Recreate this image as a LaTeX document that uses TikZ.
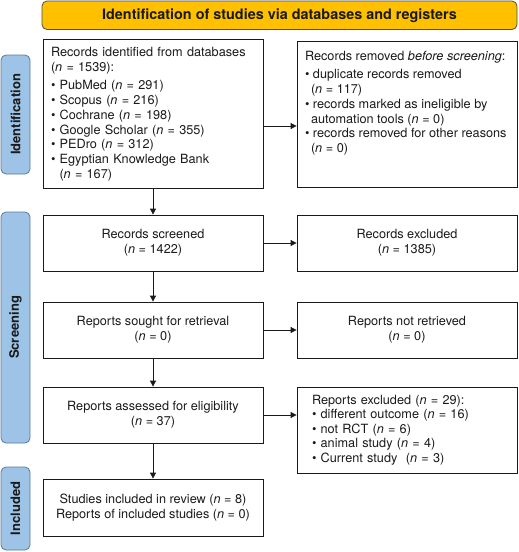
\documentclass[tikz,border=0pt]{standalone}
\usepackage{fontspec}
\setmainfont{TeX Gyre Heros}
\usetikzlibrary{arrows.meta}
\definecolor{bannerfill}{HTML}{FFC000}
\definecolor{bannerborder}{HTML}{4D4D4D}
\definecolor{sidefill}{HTML}{9DC3E6}
\definecolor{sideborder}{HTML}{5B7A99}
\definecolor{ink}{HTML}{1A1A1A}
\newcommand{\nn}{\textit{n}}
\begin{document}
\begin{tikzpicture}[x=1pt,y=-1pt,
  box/.style={draw=ink, line width=0.8pt, minimum width=220pt, inner xsep=8pt, inner ysep=8pt,
    text=ink, font=\fontsize{12.7}{14.7}\selectfont},
  cbox/.style={box, align=center, minimum height=56pt},
  banner/.style={draw=bannerborder, fill=bannerfill, rounded corners=5pt, line width=0.8pt,
    minimum width=475pt, minimum height=28.5pt, inner sep=0pt, text=ink,
    font=\bfseries\fontsize{14.4}{16}\selectfont},
  side/.style={draw=sideborder, fill=sidefill, rounded corners=5pt, line width=0.8pt,
    minimum height=29pt, inner sep=0pt, rotate=90, text=ink,
    font=\bfseries\fontsize{13}{15}\selectfont},
  arr/.style={draw=ink, line width=0.8pt, -{Triangle[length=6pt,width=6pt]}}]
\path[use as bounding box] (0,0) rectangle (519,552);

\node[banner] (ban) at (279.5,15.25) {Identification of studies via databases and registers};

\node[side, minimum width=119pt] (s1) at (15.5,114.5) {Identification};
\node[side, minimum width=231pt] (s2) at (15.5,327.5) {Screening};
\node[side, minimum width=83pt] (s3) at (15.5,508.5) {Included};

\node[box, minimum height=146pt, text width=204pt, align=left] (rid) at (153,114) {%
Records identified from databases\\
(\nn{} = 1539):\\[4pt]
• PubMed (\nn{} = 291)\\
• Scopus (\nn{} = 216)\\
• Cochrane (\nn{} = 198)\\
• Google Scholar (\nn{} = 355)\\
• PEDro (\nn{} = 312)\\
• Egyptian Knowledge Bank\\
\hspace*{8.5pt}(\nn{} = 167)};

\node[box, minimum height=146pt] (rem) at (407,114) {%
\begin{minipage}[c][130pt][t]{204pt}\raggedright
\vspace*{2pt}Records removed \textit{before screening}:\\[4pt]
• duplicate records removed\\
\hspace*{6pt}(\nn{} = 117)\\
• records marked as ineligible by\\
\hspace*{6pt}automation tools (\nn{} = 0)\\
• records removed for other reasons\\
\hspace*{6pt}(\nn{} = 0)
\end{minipage}};

\node[cbox] (rs) at (153,243) {Records screened\\(\nn{} = 1422)};
\node[cbox] (rex) at (407,243) {Records excluded\\(\nn{} = 1385)};
\node[cbox] (rsr) at (153,330) {Reports sought for retrieval\\(\nn{} = 0)};
\node[cbox] (rnr) at (407,330) {Reports not retrieved\\(\nn{} = 0)};
\node[cbox] (ra) at (153,415) {Reports assessed for eligibility\\(\nn{} = 37)};
\node[box, minimum height=84pt, text width=190pt, align=left, font=\fontsize{12.7}{14.5}\selectfont] (rex2) at (407,430) {%
Reports excluded (\nn{} = 29):\\
• different outcome (\nn{} = 16)\\
• not RCT (\nn{} = 6)\\
• animal study (\nn{} = 4)\\
• Current study\ \ (\nn{} = 3)};
\node[cbox, minimum height=57pt] (inc) at (153,507.5) {Studies included in review (\nn{} = 8)\\Reports of included studies (\nn{} = 0)};

\draw[arr] (rid.south) -- (rs.north);
\draw[arr] (rs.south) -- (rsr.north);
\draw[arr] (rsr.south) -- (ra.north);
\draw[arr] (ra.south) -- (inc.north);
\draw[arr] ([yshift=-12pt]rid.east) -- ([yshift=-12pt]rem.west);
\draw[arr] (rs.east) -- (rex.west);
\draw[arr] (rsr.east) -- (rnr.west);
\draw[arr] (ra.east) -- (ra.east -| rex2.west);
\end{tikzpicture}
\end{document}
